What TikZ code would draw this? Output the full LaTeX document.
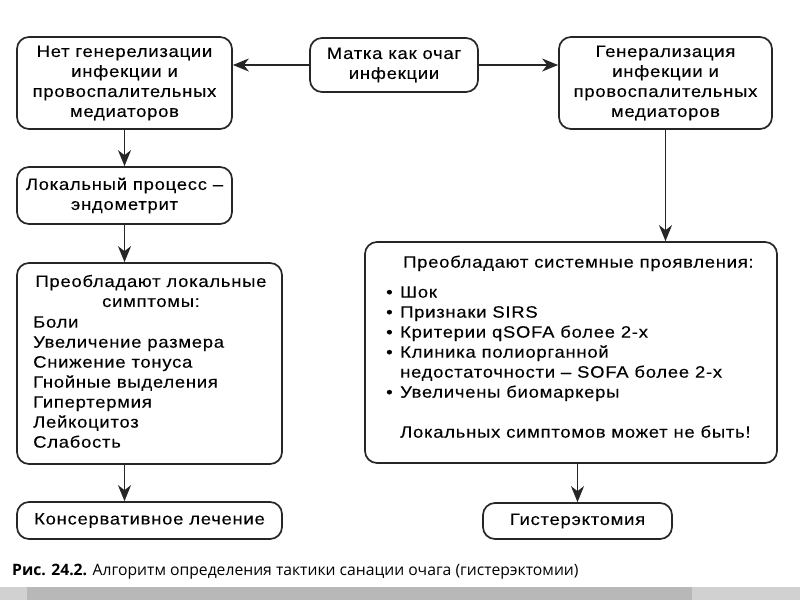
\documentclass[tikz,border=0pt]{standalone}
\usepackage{fontspec}
\setmainfont{Liberation Sans}[LetterSpace=4.4, FakeStretch=1.12, FakeBold=0.15]
\newfontfamily\capfont{Open Sans}
\usetikzlibrary{arrows.meta}
\tikzset{
  box/.style={draw=black!85, line width=1.7pt, rounded corners=12pt, inner sep=0pt, align=center,
    font=\fontsize{16.5}{20}\selectfont},
  txt/.style={inner sep=0pt, font=\fontsize{16.5}{20}\selectfont},
  arr/.style={line width=1.7pt, draw=black!85, -{Stealth[length=16pt, width=13pt, inset=5pt]}},
}
\newcommand{\blt}{\makebox[14pt][l]{•}}
\begin{document}
\begin{tikzpicture}[x=1pt, y=-1pt]
\useasboundingbox (0,0) rectangle (800,600);
\fill[black!18] (0,587) rectangle (800,600);
\fill[black!28] (27,587) rectangle (692,600);

\node[box, minimum width=215pt, minimum height=92pt] (nogen) at (124.5,83)
  {Нет генерелизации\\инфекции и\\провоспалительных\\медиаторов};
\node[box, minimum width=168pt, minimum height=54pt] (uterus) at (394,65)
  {Матка как очаг\\инфекции};
\node[box, minimum width=213pt, minimum height=92pt] (gen) at (665.5,83)
  {Генерализация\\инфекции и\\провоспалительных\\медиаторов};
\node[box, minimum width=215pt, minimum height=57pt] (local) at (124.5,195.5)
  {Локальный процесс –\\эндометрит};
\node[box, minimum width=265pt, minimum height=201pt] (locsym) at (149.5,363.5) {};
\node[box, minimum width=265pt, minimum height=37pt] (cons) at (149.5,520.5)
  {Консервативное лечение};
\node[box, minimum width=412pt, minimum height=221pt] (syst) at (571,352.5) {};
\node[box, minimum width=189pt, minimum height=36pt] (hyst) at (577.5,521)
  {Гистерэктомия};

% left big box text
\node[txt, align=center] (lt) at (151,291) {Преобладают локальные\\симптомы:};
\node[txt, anchor=mid west] (l1) at (33,325) {Боли};
\node[txt, anchor=mid west] (l2) at (33,345) {Увеличение размера};
\node[txt, anchor=mid west] (l3) at (33,365) {Снижение тонуса};
\node[txt, anchor=mid west] (l4) at (33,385) {Гнойные выделения};
\node[txt, anchor=mid west] (l5) at (33,405) {Гипертермия};
\node[txt, anchor=mid west] (l6) at (33,425) {Лейкоцитоз};
\node[txt, anchor=mid west] (l7) at (33,445) {Слабость};

% right big box text
\node[txt, anchor=mid west] (rt) at (403,265) {Преобладают системные проявления:};
\node[txt, anchor=mid west] (r1) at (386,295) {\blt Шок};
\node[txt, anchor=mid west] (r2) at (386,315) {\blt Признаки SIRS};
\node[txt, anchor=mid west] (r3) at (386,335) {\blt Критерии qSOFA более 2-х};
\node[txt, anchor=mid west] (r4) at (386,355) {\blt Клиника полиорганной};
\node[txt, anchor=mid west] (r4b) at (400,375) {недостаточности – SOFA более 2-х};
\node[txt, anchor=mid west] (r5) at (386,395) {\blt Увеличены биомаркеры};
\node[txt, anchor=mid west] (rf) at (400,435) {Локальных симптомов может не быть!};

\node[anchor=base west, inner sep=0pt, font=\capfont\fontsize{15.7}{18}\selectfont] (cap) at (12,575)
  {\textbf{Рис. 24.2.} Алгоритм определения тактики санации очага (гистерэктомии)};

\draw[arr] (uterus.west) -- (nogen.east |- uterus.west);
\draw[arr] (uterus.east) -- (gen.west |- uterus.east);
\draw[arr] (nogen.south) -- (local.north);
\draw[arr] (local.south) -- (locsym.north -| local.south);
\draw[arr] (locsym.south -| local.south) -- (cons.north -| local.south);
\draw[arr] (gen.south) -- (syst.north -| gen.south);
\draw[arr] (syst.south -| hyst.north) -- (hyst.north);
\end{tikzpicture}
\end{document}
